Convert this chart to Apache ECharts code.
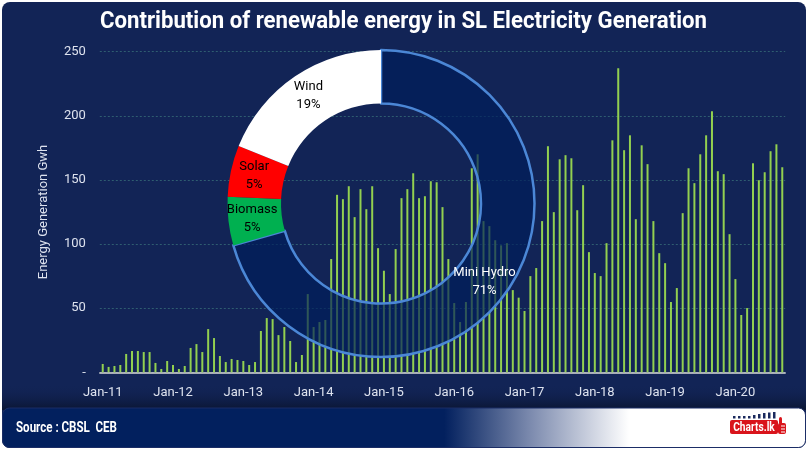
<!DOCTYPE html>
<html>
<head>
<meta charset="utf-8">
<script src="https://cdn.jsdelivr.net/npm/echarts@6/dist/echarts.min.js"></script>
<style>
html,body{margin:0;padding:0;background:#fff;}
#c{width:809px;height:452px;}
</style>
</head>
<body>
<div id="c"></div>
<script>
// ---- data ----
const monthNames = ['Jan','Feb','Mar','Apr','May','Jun','Jul','Aug','Sep','Oct','Nov','Dec'];
const years = ['11','12','13','14','15','16','17','18','19','20'];
const generation = [
  6.5, 4.2, 4.9, 5.7, 14.3, 16.6, 16.6, 15.8, 15.8, 7.3, 2.6, 8.8,
  5.7, 2.6, 4.9, 19, 22, 15.8, 33.7, 26.7, 12.7, 8, 10.4, 9.6,
  8.8, 5.7, 8, 32.2, 42.3, 41.5, 29, 35.3, 24.4, 8, 13.5, 61,
  35.3, 39.2, 40.8, 88.3, 138.4, 135, 145.1, 121, 142.8, 127.2, 145.1, 96.8,
  79.2, 61, 96.1, 135.8, 142.8, 155.2, 135.8, 137.3, 149, 148.2, 128.8, 88.3,
  54, 39.2, 54.8, 159.1, 170, 117.9, 114, 103, 99, 100.7, 64.1, 58.2,
  47.8, 75, 81.3, 117.9, 176.3, 124.9, 166.1, 169.3, 166.9, 126.4, 145.9, 93.7,
  77.4, 75, 100.7, 180.9, 237, 173.2, 184.8, 119.4, 177, 162.3, 117.9, 92.9,
  85.1, 54.8, 65.7, 124.1, 159.1, 147.5, 170, 184.8, 203.5, 156.8, 154.5, 107.7,
  72.7, 44.7, 50.1, 163, 149.8, 156, 172.4, 177.8, 159.9
];
const yTicks = [0, 50, 100, 150, 200, 250];
const pieNames = ['Mini Hydro', 'Biomass', 'Solar', 'Wind'];
const pieValues = [70.6, 5.1, 5.4, 18.9];
const titleText = 'Contribution of renewable energy in SL Electricity Generation';
const sourceText = 'Source : CBSL  CEB';

// categories Jan-11 ... Sep-20
const categories = [];
for (let i = 0; i < generation.length; i++) {
  categories.push(monthNames[i % 12] + '-' + years[Math.floor(i / 12)]);
}

const FONT = 'Roboto, "Liberation Sans", sans-serif';
const mctx = document.createElement('canvas').getContext('2d');
function fitScale(text, font, target) {
  mctx.font = font;
  return target / mctx.measureText(text).width;
}
const titleFont = 'bold 24px ' + FONT;
const titleScale = fitScale(titleText, titleFont, 607);
const srcFont = 'bold 15px ' + FONT;
const srcScale = fitScale(sourceText, srcFont, 101);

const pieStyles = {
  'Mini Hydro': {color: 'rgba(0,30,92,0.68)', borderColor: '#4b87d6', borderWidth: 2.5, label: '#ffffff'},
  'Biomass': {color: '#00b050', borderColor: 'transparent', borderWidth: 0, label: '#000000'},
  'Solar': {color: '#ff0000', borderColor: 'transparent', borderWidth: 0, label: '#000000'},
  'Wind': {color: '#ffffff', borderColor: 'transparent', borderWidth: 0, label: '#000000'}
};

function logoRect(x, y, w, h, fill, r) {
  return {type: 'rect', z: 20, silent: true, shape: {x: x, y: y, width: w, height: h, r: r || 0}, style: {fill: fill}};
}
const navyIcon = '#1b2a5e', red = '#d9141b';

const chart = echarts.init(document.getElementById('c'), null, {renderer: 'canvas'});
const option = {
  backgroundColor: '#ffffff',
  animation: false,
  graphic: [
    {type: 'rect', z: -10, silent: true, shape: {x: 2, y: 2, width: 804, height: 446, r: 8}, style: {fill: '#122456'}},
    {type: 'rect', z: -9, silent: true, shape: {x: 2, y: 384, width: 804, height: 26},
      style: {fill: new echarts.graphic.LinearGradient(0, 0, 0, 1, [
        {offset: 0, color: 'rgba(18,36,86,0)'}, {offset: 1, color: '#0a1532'}])}},
    {type: 'rect', z: 10, silent: true, shape: {x: 2.5, y: 408, width: 803, height: 39.5, r: 7},
      style: {fill: new echarts.graphic.LinearGradient(0, 0, 1, 0, [
        {offset: 0, color: '#02205e'}, {offset: 0.55, color: '#02205e'},
        {offset: 0.66, color: '#7f8db0'}, {offset: 0.78, color: '#ffffff'}, {offset: 1, color: '#ffffff'}]),
        stroke: '#1b2d66', lineWidth: 1}},
    {type: 'text', z: 11, silent: true, x: 16, y: 428, scaleX: srcScale,
      style: {x: 0, y: 0, text: sourceText, fill: '#ffffff', font: srcFont, verticalAlign: 'middle'}},
    {type: 'text', z: 11, silent: true, x: 403.5, y: 22, scaleX: titleScale,
      style: {x: 0, y: 0, text: titleText, fill: '#ffffff', font: titleFont, align: 'center', verticalAlign: 'middle'}},
    // logo
    logoRect(733, 416, 2.5, 2.5, navyIcon),
    logoRect(738, 416, 2.5, 2.5, navyIcon),
    logoRect(743, 416, 2.5, 2.5, navyIcon),
    logoRect(748, 416, 2.5, 2.5, navyIcon),
    logoRect(753, 415, 2.5, 3.5, navyIcon),
    logoRect(758, 414, 2.5, 4.5, navyIcon),
    logoRect(763, 413, 2.5, 5.5, navyIcon),
    logoRect(768, 412.5, 2.5, 6, navyIcon),
    logoRect(773, 412, 2.5, 6.5, navyIcon),
    logoRect(730, 420, 48, 14, red, 2),
    logoRect(778, 423, 8, 11, red, 2),
    logoRect(779, 417, 3, 7, red, 1.5),
    logoRect(781, 425.5, 4, 1, '#ffffff'),
    logoRect(781, 428.5, 4, 1, '#ffffff'),
    logoRect(781, 431.5, 4, 1, '#ffffff'),
    {type: 'text', z: 21, silent: true, x: 754, y: 427.5, scaleX: 0.85,
      style: {x: 0, y: 0, text: 'Charts.lk', fill: '#ffffff', font: 'bold 12px ' + FONT, align: 'center', verticalAlign: 'middle'}}
  ],
  grid: {left: 99.8, right: 23.8, top: 51.7, bottom: 79.7, containLabel: false},
  xAxis: {
    type: 'category',
    data: categories,
    boundaryGap: true,
    axisLine: {lineStyle: {color: '#d9d9d9', width: 1.5}},
    axisTick: {show: false},
    axisLabel: {
      color: '#dde2ee', fontSize: 13, fontFamily: FONT, margin: 14,
      interval: function (i) { return i % 12 === 0; }
    },
    splitLine: {show: false}
  },
  yAxis: {
    type: 'value',
    min: yTicks[0], max: yTicks[yTicks.length - 1], interval: 50,
    name: 'Energy Generation Gwh',
    nameLocation: 'middle', nameRotate: 90, nameGap: 50,
    nameTextStyle: {color: '#dde2ee', fontSize: 13, fontFamily: FONT},
    axisLine: {show: false},
    axisTick: {show: false},
    axisLabel: {
      color: '#dde2ee', fontSize: 13, fontFamily: FONT, margin: 14,
      formatter: function (v) { return v === 0 ? '-' : String(v); }
    },
    splitLine: {lineStyle: {color: '#2f5d70', type: [2, 2], width: 1}}
  },
  series: [
    {
      type: 'bar',
      data: generation,
      barWidth: 2,
      itemStyle: {color: '#92d050'},
      silent: true,
      z: 2
    },
    {
      type: 'pie',
      z: 5,
      silent: true,
      center: [381, 203.5],
      radius: [100, 153.5],
      startAngle: 90,
      clockwise: true,
      percentPrecision: 0,
      avoidLabelOverlap: false,
      labelLine: {show: false},
      label: {
        show: true, position: 'inside',
        formatter: '{b}\n{d}%',
        fontSize: 13, lineHeight: 18, fontFamily: FONT
      },
      data: pieNames.map(function (n, i) {
        const s = pieStyles[n];
        return {
          name: n, value: pieValues[i],
          itemStyle: {color: s.color, borderColor: s.borderColor, borderWidth: s.borderWidth},
          label: {color: s.label}
        };
      })
    }
  ]
};
chart.setOption(option);
</script>
</body>
</html>
